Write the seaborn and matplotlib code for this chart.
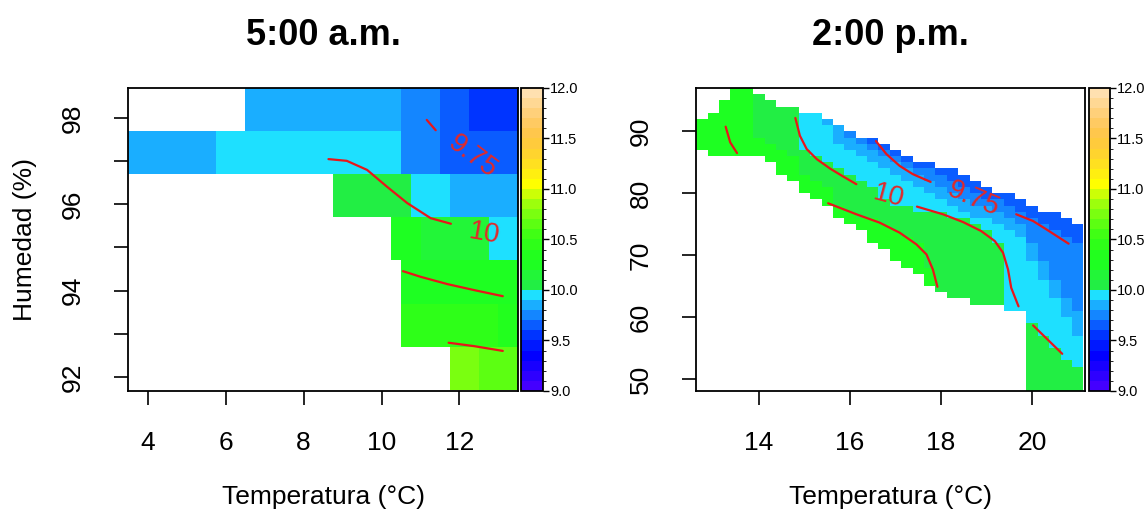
import numpy as np
import matplotlib
matplotlib.use("Agg")
import matplotlib.pyplot as plt
from matplotlib.colors import ListedColormap, BoundaryNorm
import seaborn as sns

sns.set_style("white")
plt.rcParams['font.family'] = ['Liberation Sans', 'DejaVu Sans']
plt.rcParams['text.color'] = 'black'
plt.rcParams['axes.labelcolor'] = 'black'
plt.rcParams['xtick.color'] = 'black'
plt.rcParams['ytick.color'] = 'black'

# colour scale: 30 bands of 0.1 between 9.0 and 12.0
band_colors = ['#4400ff', '#2e00ff', '#1800ff', '#0200ff', '#0018ff',
               '#0034ff', '#0a5cff', '#1486ff', '#1aaeff', '#1ee0ff',
               '#22ee44', '#22f638', '#1eff22', '#22ff1e', '#2eff18',
               '#40ff14', '#5cff12', '#7aff10', '#9cff0c', '#ccff06',
               '#ffff00', '#ffef10', '#ffe020', '#ffd42e', '#ffcb3c',
               '#ffc74c', '#ffca62', '#ffd07a', '#ffd894', '#ffe0b0']
band_edges = np.round(np.linspace(9.0, 12.0, 31), 2)
cbar_ticks = [9.0, 9.5, 10.0, 10.5, 11.0, 11.5, 12.0]
cmap = ListedColormap(band_colors)
norm = BoundaryNorm(band_edges, cmap.N)

nan = np.nan

# ---- 5:00 a.m. : rows of 1 % humidity, runs of 0.25 degC cells (value, n cells)
am_temp_edges = np.arange(3.5, 13.51, 0.25)
am_hum_edges = np.arange(91.7, 98.71, 1.0)
am_row_92 = [(nan, 33), (10.75, 3), (10.65, 4)]
am_row_93 = [(nan, 28), (10.45, 10), (10.35, 2)]
am_row_94 = [(nan, 28), (10.25, 12)]
am_row_95 = [(nan, 27), (10.25, 3), (10.15, 7), (9.95, 3)]
am_row_96 = [(nan, 21), (10.05, 8), (9.95, 4), (9.85, 7)]
am_row_97 = [(9.85, 9), (9.95, 19), (9.75, 4), (9.65, 8)]
am_row_98 = [(nan, 12), (9.85, 16), (9.75, 4), (9.65, 3), (9.55, 5)]
am_rows = [am_row_92, am_row_93, am_row_94, am_row_95, am_row_96, am_row_97, am_row_98]

am_line1_t = [11.16, 11.39]
am_line1_h = [97.96, 97.72]
am_line2_t = [8.64, 9.11, 9.63, 10.14, 10.66, 11.26, 11.78]
am_line2_h = [97.05, 97.01, 96.80, 96.41, 96.03, 95.68, 95.55]
am_line3_t = [10.55, 11.0, 11.69, 12.38, 13.11]
am_line3_h = [94.45, 94.32, 94.15, 94.01, 93.87]
am_line4_t = [11.72, 12.38, 13.11]
am_line4_h = [92.79, 92.71, 92.60]

# ---- 2:00 p.m. : 34 columns of 0.25 degC, rows of 1 % humidity
pm_temp_edges = np.arange(12.625, 21.126, 0.25)
pm_hum_edges = np.arange(48, 98)
pm_top = [92, 93, 95, 97, 97, 96, 95, 94, 94, 93, 93, 92, 91, 90, 89, 89, 88,
          87, 86, 85, 85, 84, 84, 83, 82, 81, 80, 80, 79, 78, 77, 77, 76, 75]
pm_bottom = [87, 86, 86, 86, 86, 86, 85, 83, 82, 80, 79, 78, 76, 75, 74, 72, 71,
             69, 68, 67, 65, 64, 63, 63, 62, 62, 62, 61, 61, 48, 48, 48, 48, 48]
# humidity where each colour band starts, per column
pm_light_green = [99, 99, 99, 99, 99, 89, 88, 87, 86, 83, 82, 81, 78, 77, 76, 76, 75,
                  74, 73, 72, 68, 64, 63, 63, 62, 62, 62, 61, 61, 48, 48, 48, 48, 48]
pm_cyan = [99, 99, 99, 99, 99, 99, 99, 99, 99, 87, 86, 85, 84, 83, 82, 81, 79,
           78, 78, 77, 77, 77, 76, 76, 75, 74, 72, 61, 61, 59, 57, 55, 53, 52]
pm_blue85 = [99, 99, 99, 99, 99, 99, 99, 99, 99, 99, 99, 91, 88, 87, 86, 85, 84,
             83, 82, 81, 80, 79, 78, 77, 76, 76, 75, 74, 73, 69, 66, 63, 60, 57]
pm_blue75 = [99, 99, 99, 99, 99, 99, 99, 99, 99, 99, 99, 99, 99, 89, 88, 87, 86,
             85, 84, 83, 82, 81, 80, 79, 78, 78, 77, 76, 75, 72, 69, 66, 63, 61]
pm_blue65 = [99, 99, 99, 99, 99, 99, 99, 99, 99, 99, 99, 99, 99, 99, 99, 88, 87,
             86, 85, 84, 84, 83, 82, 81, 80, 79, 79, 78, 77, 76, 75, 74, 73, 72]
pm_band_values = [10.25, 10.05, 9.95, 9.85, 9.75, 9.65]

pm_line1_t = [13.27, 13.37, 13.52]
pm_line1_h = [90.75, 88.22, 86.48]
pm_line2_t = [14.80, 14.90, 15.05, 15.27, 15.56, 15.85, 16.14]
pm_line2_h = [92.16, 89.29, 87.13, 85.51, 84.0, 82.7, 81.46]
pm_line3_t = [16.57, 16.80, 17.09, 17.38, 17.77]
pm_line3_h = [88.43, 86.32, 84.42, 83.08, 81.83]
pm_line4_t = [19.65, 20.02, 20.31, 20.80]
pm_line4_h = [76.6, 75.51, 74.17, 71.85]
pm_line5_t = [15.52, 16.14, 16.65, 17.09, 17.46, 17.68, 17.82, 17.92]
pm_line5_h = [78.38, 76.6, 75.25, 73.63, 71.73, 70.11, 67.68, 64.88]
pm_line6_t = [17.47, 18.04, 18.48, 18.88, 19.18, 19.36, 19.47, 19.54, 19.70]
pm_line6_h = [77.84, 76.6, 75.35, 73.89, 72.27, 70.39, 67.68, 64.72, 61.73]
pm_line7_t = [20.02, 20.66]
pm_line7_h = [58.65, 54.06]

# build the grids
am_grid = np.array([[v for v, n in row for _ in range(n)] for row in am_rows])

pm_grid = np.full((len(pm_hum_edges) - 1, len(pm_top)), np.nan)
for i in range(len(pm_top)):
    for h in range(pm_bottom[i], pm_top[i]):
        limits = [pm_light_green[i], pm_cyan[i], pm_blue85[i], pm_blue75[i], pm_blue65[i], 999]
        k = next(j for j, lim in enumerate(limits) if h < lim)
        pm_grid[h - 48, i] = pm_band_values[k]

fig = plt.figure(figsize=(11.45, 5.14), dpi=100)
ax1 = fig.add_axes([0.1118, 0.2393, 0.3406, 0.5895])
cax1 = fig.add_axes([0.4550, 0.2393, 0.0192, 0.5895])
ax2 = fig.add_axes([0.6079, 0.2393, 0.3397, 0.5895])
cax2 = fig.add_axes([0.9511, 0.2393, 0.0183, 0.5895])

line_color = '#e8161a'
label_font = dict(color='#e02a2a', fontsize=20, fontweight='normal',
                  family=['Liberation Sans'], ha='center', va='center', zorder=5)

# 5:00 a.m.
m1 = ax1.pcolormesh(am_temp_edges, am_hum_edges, am_grid, cmap=cmap, norm=norm)
for t, h in [(am_line1_t, am_line1_h), (am_line2_t, am_line2_h),
             (am_line3_t, am_line3_h), (am_line4_t, am_line4_h)]:
    sns.lineplot(x=t, y=h, sort=False, estimator=None, color=line_color, lw=1.6, ax=ax1)
ax1.text(12.33, 97.11, '9.75', rotation=-37, **label_font)
ax1.text(12.63, 95.31, '10', rotation=-10, **label_font)
ax1.set_xlim(3.5, 13.5)
ax1.set_ylim(91.67, 98.7)
ax1.set_xticks([4, 6, 8, 10, 12])
ax1.set_yticks(range(92, 99))
ax1.set_yticklabels(['92', '', '94', '', '96', '', '98'])
ax1.set_title('5:00 a.m.', fontsize=26, fontweight='bold', pad=31)
ax1.set_xlabel('Temperatura (°C)', fontsize=19, va='center')
ax1.xaxis.set_label_coords(0.5, -0.35)
ax1.set_ylabel('Humedad (%)', fontsize=19, va='center')
ax1.yaxis.set_label_coords(-0.264, 0.5)

# 2:00 p.m.
m2 = ax2.pcolormesh(pm_temp_edges, pm_hum_edges, pm_grid, cmap=cmap, norm=norm)
for t, h in [(pm_line1_t, pm_line1_h), (pm_line2_t, pm_line2_h),
             (pm_line3_t, pm_line3_h), (pm_line4_t, pm_line4_h),
             (pm_line5_t, pm_line5_h), (pm_line6_t, pm_line6_h),
             (pm_line7_t, pm_line7_h)]:
    sns.lineplot(x=t, y=h, sort=False, estimator=None, color=line_color, lw=1.6, ax=ax2)
ax2.text(16.86, 79.56, '10', rotation=-15, **label_font)
ax2.text(18.70, 79.03, '9.75', rotation=-23, **label_font)
ax2.set_xlim(12.62, 21.16)
ax2.set_ylim(48.05, 97.0)
ax2.set_xticks([14, 16, 18, 20])
ax2.set_yticks([50, 60, 70, 80, 90])
ax2.set_title('2:00 p.m.', fontsize=26, fontweight='bold', pad=31)
ax2.set_xlabel('Temperatura (°C)', fontsize=19, va='center')
ax2.xaxis.set_label_coords(0.5, -0.35)

for ax in (ax1, ax2):
    ax.tick_params(axis='both', direction='out', length=10, width=1.2,
                   labelsize=19, bottom=True, left=True)
    ax.tick_params(axis='x', pad=19)
    ax.tick_params(axis='y', pad=21)
    for lab in ax.get_yticklabels():
        lab.set_rotation(90)
        lab.set_va('center')
    for s in ax.spines.values():
        s.set_color('black')
        s.set_linewidth(1.3)

for m, cax in [(m1, cax1), (m2, cax2)]:
    cb = fig.colorbar(m, cax=cax, ticks=cbar_ticks, format='%.1f')
    cb.outline.set_linewidth(1.3)
    cb.outline.set_edgecolor('black')
    cax.tick_params(direction='out', length=4, width=1, labelsize=10.5, pad=1, right=True)

fig.savefig('out.png', dpi=100)
